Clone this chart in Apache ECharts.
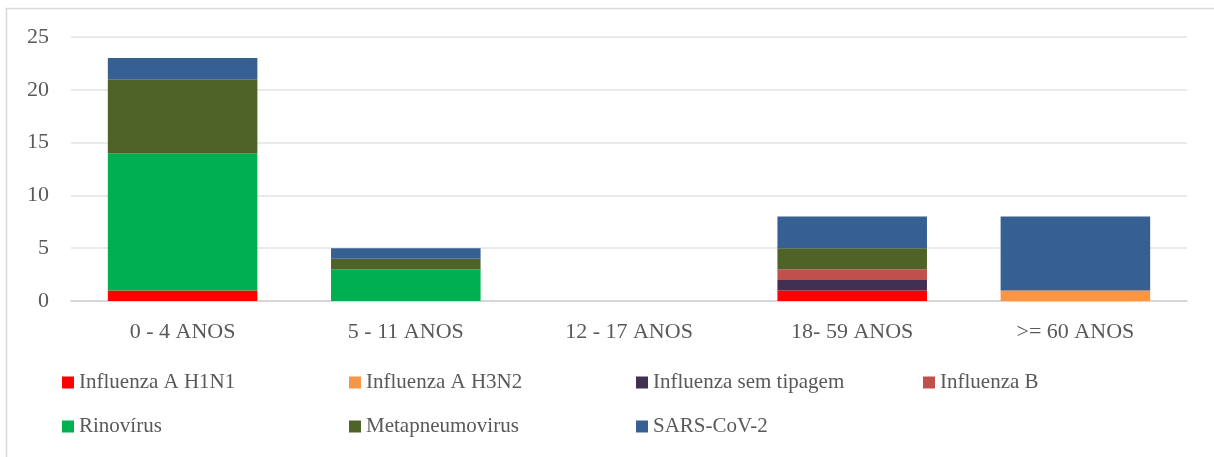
<!DOCTYPE html>
<html>
<head>
	<meta charset="utf-8">
	<title>Vírus por faixa etária</title>
	<style>
		html, body { margin: 0; padding: 0; background: #fff; }
	</style>
</head>

<body>
	<div style="width:1214px;height:457px;" id="chart1"></div>

	<script src="https://cdn.jsdelivr.net/npm/echarts@6/dist/echarts.min.js"></script>
	<script>

	// dados
	var faixas = ['0 - 4 ANOS', '5 - 11 ANOS', '12 - 17 ANOS', '18- 59 ANOS', '>= 60 ANOS'];
	var h1n1        = [1, 0, 0, 1, 0];
	var h3n2        = [0, 0, 0, 0, 1];
	var semTipagem  = [0, 0, 0, 1, 0];
	var influenzaB  = [0, 0, 0, 1, 0];
	var rinovirus   = [13, 3, 0, 0, 0];
	var metapneumo  = [7, 1, 0, 2, 0];
	var sarsCov2    = [2, 1, 0, 3, 7];
	var yTicks      = [0, 5, 10, 15, 20, 25];

	var fonte = '"Liberation Serif", "DejaVu Serif", serif';
	var cinza = '#595959';

	function serie(nome, dados, cor) {
		return {
			name: nome,
			type: 'bar',
			stack: 'total',
			barWidth: '67%',
			data: dados,
			itemStyle: { color: cor },
			emphasis: { disabled: true }
		};
	}

	var myChart = echarts.init(document.getElementById('chart1'));

	var option = {
		animation: false,
		textStyle: { fontFamily: fonte },
		graphic: [{
			type: 'rect',
			shape: { x: 6.5, y: 8.5, width: 1300, height: 500 },
			style: { fill: 'none', stroke: '#d9d9d9', lineWidth: 1.5 },
			silent: true
		}],
		grid: { left: 71, right: 27, top: 37, height: 264, containLabel: false },
		legend: {
			left: 62,
			top: 363,
			width: 1150,
			itemWidth: 12,
			itemHeight: 12,
			itemGap: 5,
			icon: 'rect',
			textStyle: {
				fontFamily: fonte,
				fontSize: 21,
				color: cinza,
				width: 265,
				lineHeight: 39
			},
			padding: 0,
			data: ['Influenza A H1N1', 'Influenza A H3N2', 'Influenza sem tipagem', 'Influenza B',
				'Rinovírus', 'Metapneumovirus', 'SARS-CoV-2']
		},
		xAxis: {
			type: 'category',
			data: faixas,
			axisLine: { lineStyle: { color: '#d0d0d0', width: 1.5 } },
			axisTick: { show: false },
			axisLabel: { fontSize: 22, color: cinza, margin: 20, fontFamily: fonte }
		},
		yAxis: {
			type: 'value',
			min: yTicks[0],
			max: yTicks[yTicks.length - 1],
			interval: 5,
			axisLine: { show: false },
			axisTick: { show: false },
			axisLabel: { fontSize: 22, color: cinza, margin: 22, fontFamily: fonte },
			splitLine: { lineStyle: { color: '#e3e3e3', width: 1.5 } }
		},
		series: [
			serie('Influenza A H1N1', h1n1, '#ff0000'),
			serie('Influenza A H3N2', h3n2, '#f79646'),
			serie('Influenza sem tipagem', semTipagem, '#403152'),
			serie('Influenza B', influenzaB, '#c0504d'),
			serie('Rinovírus', rinovirus, '#00b050'),
			serie('Metapneumovirus', metapneumo, '#4f6228'),
			serie('SARS-CoV-2', sarsCov2, '#366092')
		]
	};

	myChart.setOption(option);

	</script>
</body>

</html>
